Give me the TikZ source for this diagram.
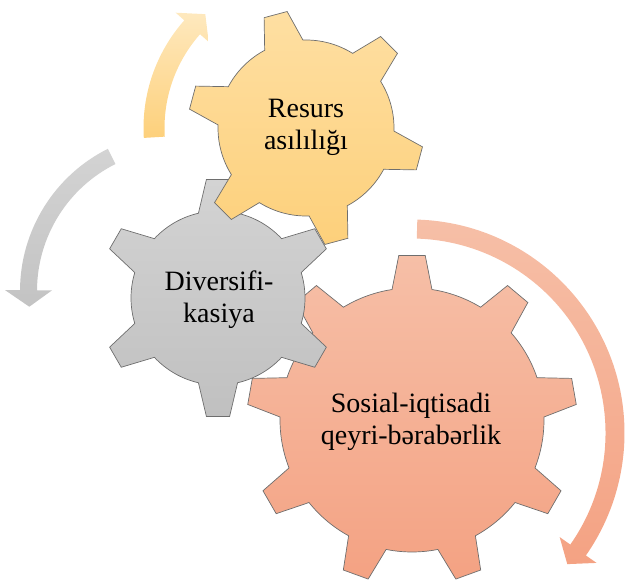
\documentclass[tikz,border=0pt]{standalone}
\usepackage{fontspec}
\setmainfont{Liberation Serif}
\newfontfamily\gearserif{Liberation Serif}
\definecolor{yelA}{HTML}{FEDFA2}
\definecolor{yelB}{HTML}{FDD07B}
\definecolor{gryA}{HTML}{D3D3D3}
\definecolor{gryB}{HTML}{C0C0C0}
\definecolor{orA}{HTML}{F6BFA7}
\definecolor{orB}{HTML}{F4A283}
\definecolor{gearline}{HTML}{6E6E6E}
\tikzset{
  gearbody/.style={draw=gearline, line width=0.7pt, line join=miter},
  arrowbody/.style={draw=none},
  gtext/.style={align=center, inner sep=0pt, text=black, font=\gearserif\fontsize{28}{32}\selectfont},
}
% cx, cy, N, a0, r1, r2, hb, ht, style
\newcommand{\mygear}[9]{%
  \pgfmathsetmacro{\gp}{360/#3}%
  \draw[gearbody, #9, shift={(#1,#2)}] (#4-#7:#5)
    \foreach \k [evaluate=\k as \a using #4+(\k-1)*\gp] in {1,...,#3} {
      -- (\a-#7:#5) -- (\a-#8:#6) -- (\a+#8:#6) -- (\a+#7:#5)
      arc[start angle=\a+#7, end angle=\a+\gp-#7, radius=#5]
    } -- cycle;%
}
% cx, cy, r, w, s, b, t, h, style
\newcommand{\myarrow}[9]{%
  \pgfmathsetmacro{\myro}{#3+#4}%
  \pgfmathsetmacro{\myri}{#3-#4}%
  \pgfmathsetmacro{\myrho}{#3+#8}%
  \pgfmathsetmacro{\myrhi}{#3-#8}%
  \path[arrowbody, #9, shift={(#1,#2)}] (#5:\myro)
    arc[start angle=#5, end angle=#6, radius=\myro]
    -- (#6:\myrho) -- (#7:#3) -- (#6:\myrhi) -- (#6:\myri)
    arc[start angle=#6, end angle=#5, radius=\myri] -- cycle;%
}
\begin{document}
\begin{tikzpicture}[x=1pt, y=1pt]
\useasboundingbox (0,0) rectangle (629,586);
% circular arrows
\myarrow{306}{458}{152}{10.5}{183.5}{138.5}{131.5}{22}{top color=yelA!70!white, bottom color=yelB}
\myarrow{179}{295}{150.5}{8.5}{116.6}{179.7}{186}{23.5}{top color=gryA, bottom color=gryB!95!white}
\myarrow{411}{153}{204}{9.5}{88.3}{-35}{-40}{22.5}{top color=orA, bottom color=orB}
% gears
\mygear{412}{166}{9}{90}{132}{165}{8.7}{4.6}{top color=orA, bottom color=orB}
\node[gtext] (social) at (411,164.5) {Sosial-iqtisadi\\qeyri-bərabərlik};
\mygear{218}{288}{6}{90}{87}{119}{13}{5.6}{top color=gryA, bottom color=gryB}
\node[gtext] (divers) at (219,286.5) {Diversifi-\\kasiya};
\mygear{306}{458}{6}{105}{88}{118}{13}{5.8}{top color=yelA, bottom color=yelB}
\node[gtext] (resurs) at (306,458.5) {Resurs\\asılılığı};
\end{tikzpicture}
\end{document}
